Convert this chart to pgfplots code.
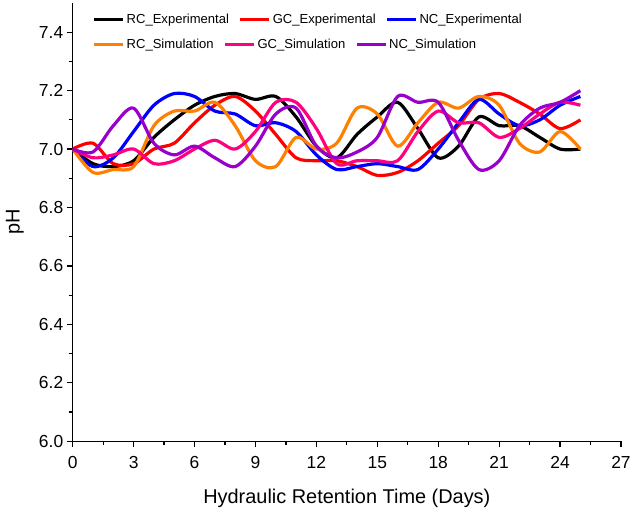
\documentclass[border=0pt]{standalone}
\usepackage{pgfplots}
\pgfplotsset{compat=1.18}
\usepackage{pgfplotstable}
\usepackage{fontspec}
\setmainfont{Liberation Sans}
\definecolor{cOrange}{RGB}{255,128,0}
\definecolor{cPink}{RGB}{255,0,128}
\definecolor{cPurple}{RGB}{153,0,204}

\pgfplotstableread{
d  RCexp GCexp NCexp RCsim GCsim NCsim
0  7.00  7.00  7.00  7.00  7.00  7.00
1  6.95  7.02  6.94  6.92  6.97  6.99
2  6.94  6.95  6.97  6.93  6.98  7.08
3  6.96  6.95  7.06  6.94  7.00  7.14
4  7.04  7.00  7.15  7.08  6.95  7.02
5  7.10  7.02  7.19  7.13  6.96  6.98
6  7.15  7.09  7.18  7.13  7.00  7.01
7  7.18  7.15  7.13  7.16  7.03  6.97
8  7.19  7.18  7.12  7.08  7.00  6.94
9  7.17  7.13  7.08  6.96  7.06  7.01
10 7.18  7.05  7.09  6.94  7.16  7.12
11 7.11  6.97  7.06  7.04  7.16  7.14
12 7.01  6.96  6.98  7.00  7.07  7.01
13 6.97  6.96  6.93  7.02  6.95  6.97
14 7.05  6.94  6.94  7.14  6.96  6.99
15 7.11  6.91  6.95  7.12  6.96  7.04
16 7.16  6.92  6.94  7.01  6.96  7.18
17 7.07  6.96  6.93  7.09  7.06  7.16
18 6.97  7.02  7.00  7.16  7.13  7.16
19 7.01  7.08  7.09  7.14  7.09  7.03
20 7.11  7.17  7.17  7.18  7.09  6.93
21 7.08  7.19  7.12  7.15  7.04  6.96
22 7.08  7.16  7.08  7.02  7.07  7.08
23 7.04  7.12  7.10  6.99  7.12  7.14
24 7.00  7.07  7.15  7.06  7.16  7.16
25 7.00  7.10  7.18  7.00  7.15  7.20
}\datatable

\pgfplotsset{
  common/.style={
    scale only axis, width=550.5pt, height=440pt,
    xmin=0, xmax=27, ymin=6.0, ymax=7.5,
    anchor=south west, at={(0,0)},
    legend columns=3,
    legend style={draw=none, fill=none, inner sep=0pt,
      font=\fontsize{13.1}{15}\selectfont,
      nodes={inner sep=2pt},
      /tikz/every even column/.append style={column sep=8pt}},
  },
  curve/.style={line width=3.2pt, smooth, tension=0.5, no markers},
}

\begin{document}
\begin{tikzpicture}
\begin{axis}[common,
  axis x line*=bottom, axis y line*=left,
  axis line style={line width=1.2pt, -},
  xtick={0,3,...,27}, minor x tick num=1,
  ytick={6.0,6.2,6.4,6.6,6.8,7.0,7.2,7.4}, minor y tick num=1,
  tick align=outside, major tick length=6pt, minor tick length=4pt,
  tick style={line width=1.2pt, black},
  /pgf/number format/assume math mode=true,
  ticklabel style={font=\fontsize{17.5}{20}\selectfont},
  xticklabel style={yshift=-6pt},
  yticklabel style={/pgf/number format/.cd, fixed, fixed zerofill, precision=1},
  xlabel={Hydraulic Retention Time (Days)}, ylabel={pH},
  label style={font=\fontsize{20}{24}\selectfont},
  xlabel style={at={(axis description cs:0.5,-0.1295)}, anchor=center},
  ylabel style={at={(axis description cs:-0.1054,0.5)}, anchor=center},
  legend style={at={(0,1)}, anchor=west, xshift=20pt, yshift=-17pt},
  legend image code/.code={\draw[#1, line width=3pt] (0pt,0pt) -- (29pt,0pt);},
]
\addplot[curve, black] table[x=d, y=RCexp] {\datatable};
\addlegendentry{RC\_Experimental}
\addplot[curve, red] table[x=d, y=GCexp] {\datatable};
\addlegendentry{GC\_Experimental}
\addplot[curve, blue] table[x=d, y=NCexp] {\datatable};
\addlegendentry{NC\_Experimental}
\end{axis}
\begin{axis}[common, hide axis,
  legend style={at={(0,1)}, anchor=west, xshift=20pt, yshift=-42pt},
  legend image code/.code={\draw[#1, line width=3pt] (0pt,0pt) -- (29pt,0pt);},
]
\addplot[curve, cOrange] table[x=d, y=RCsim] {\datatable};
\addlegendentry{RC\_Simulation}
\addplot[curve, cPink] table[x=d, y=GCsim] {\datatable};
\addlegendentry{GC\_Simulation}
\addplot[curve, cPurple] table[x=d, y=NCsim] {\datatable};
\addlegendentry{NC\_Simulation}
\end{axis}
\path (-73pt,-70pt) rectangle (561pt,443pt);
\end{tikzpicture}
\end{document}
